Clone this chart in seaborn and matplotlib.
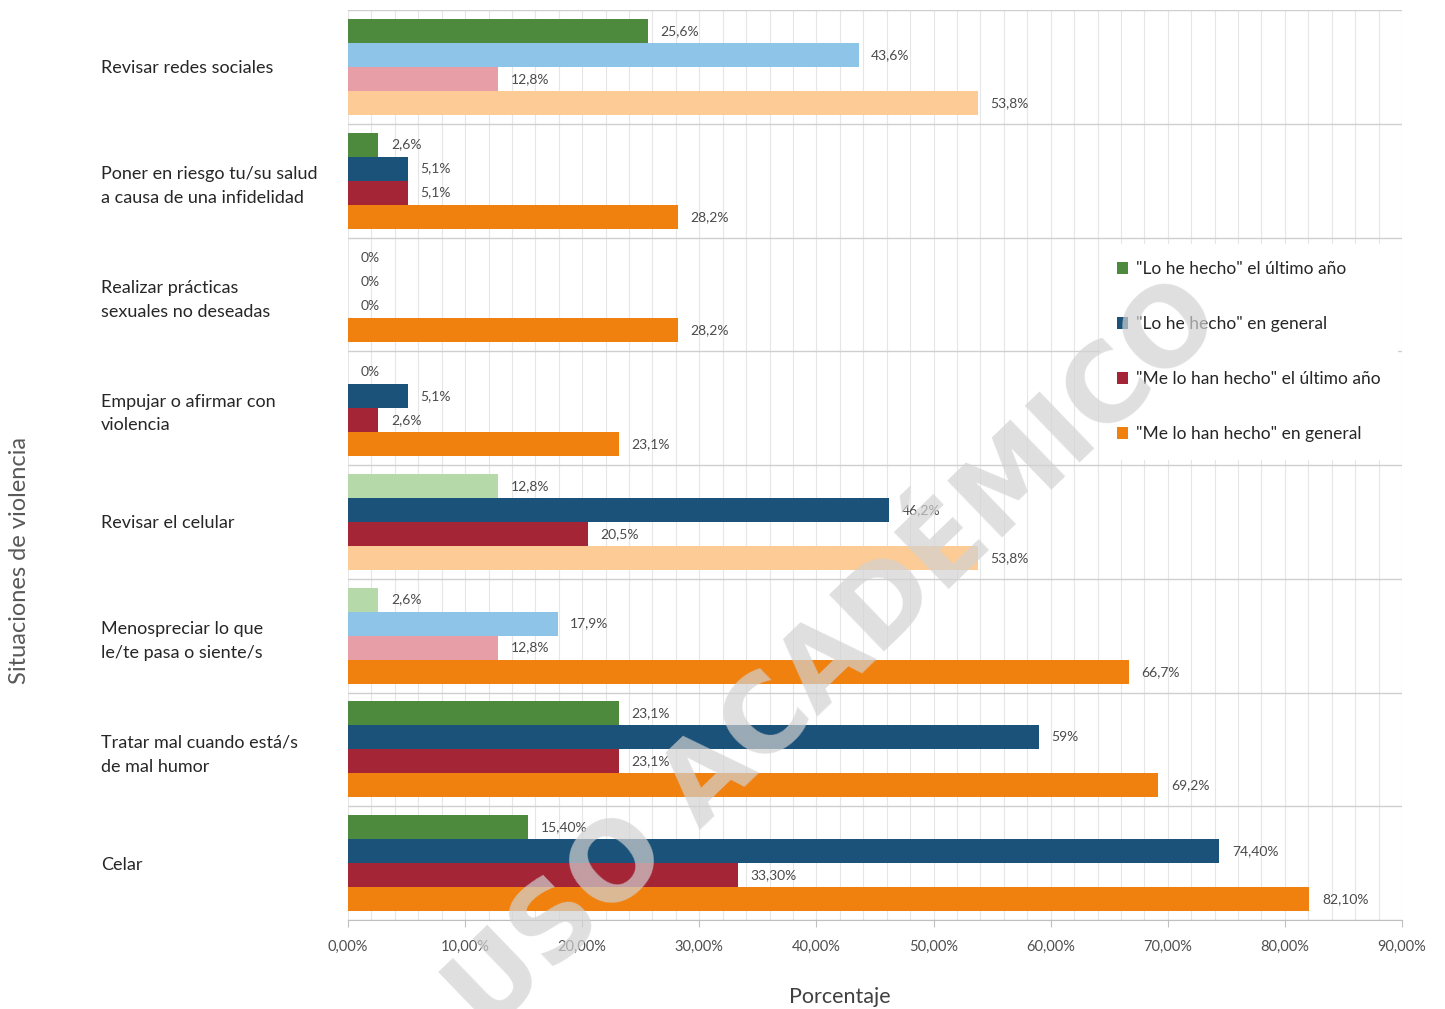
import numpy as np
import pandas as pd
import matplotlib
matplotlib.use("Agg")
import matplotlib.pyplot as plt
import seaborn as sns
from matplotlib.patches import Patch
from matplotlib.ticker import MultipleLocator

# ---------------- data ----------------
categories = [
    "Revisar redes sociales",
    "Poner en riesgo tu/su salud\na causa de una infidelidad",
    "Realizar prácticas\nsexuales no deseadas",
    "Empujar o afirmar con\nviolencia",
    "Revisar el celular",
    "Menospreciar lo que\nle/te pasa o siente/s",
    "Tratar mal cuando está/s\nde mal humor",
    "Celar",
]
series_names = [
    '"Lo he hecho" el último año',
    '"Lo he hecho" en general',
    '"Me lo han hecho" el último año',
    '"Me lo han hecho" en general',
]
hecho_ultimo = [25.6, 2.6, 0, 0, 12.8, 2.6, 23.1, 15.4]
hecho_general = [43.6, 5.1, 0, 5.1, 46.2, 17.9, 59.0, 74.4]
me_ultimo = [12.8, 5.1, 0, 2.6, 20.5, 12.8, 23.1, 33.3]
me_general = [53.8, 28.2, 28.2, 23.1, 53.8, 66.7, 69.2, 82.1]

labels_hecho_ultimo = ["25,6%", "2,6%", "0%", "0%", "12,8%", "2,6%", "23,1%", "15,40%"]
labels_hecho_general = ["43,6%", "5,1%", "0%", "5,1%", "46,2%", "17,9%", "59%", "74,40%"]
labels_me_ultimo = ["12,8%", "5,1%", "0%", "2,6%", "20,5%", "12,8%", "23,1%", "33,30%"]
labels_me_general = ["53,8%", "28,2%", "28,2%", "23,1%", "53,8%", "66,7%", "69,2%", "82,10%"]

x_ticks = [0, 10, 20, 30, 40, 50, 60, 70, 80, 90]
x_tick_labels = ["0,00%", "10,00%", "20,00%", "30,00%", "40,00%",
                 "50,00%", "60,00%", "70,00%", "80,00%", "90,00%"]

# ---------------- style ----------------
dark_colors = ["#4E8A3E", "#1B5279", "#A32536", "#F0810F"]
light_colors = ["#B5D9A8", "#8EC4E8", "#E79EA6", "#FCCB96"]
faded = [
    [False, False, False, False, True, True, False, False],
    [True, False, False, False, False, True, False, False],
    [True, False, False, False, False, True, False, False],
    [True, False, False, False, True, False, False, False],
]

sns.set_style("white")
plt.rcParams["font.family"] = ["Lato", "DejaVu Sans"]

values_all = [hecho_ultimo, hecho_general, me_ultimo, me_general]
labels_all = [labels_hecho_ultimo, labels_hecho_general, labels_me_ultimo, labels_me_general]

rows = []
for s, vals in zip(series_names, values_all):
    for c, v in zip(categories, vals):
        rows.append({"cat": c, "serie": s, "valor": v})
df = pd.DataFrame(rows)

fig = plt.figure(figsize=(14.45, 10.09), dpi=100)
ax = fig.add_axes([348 / 1445, 1 - 920 / 1009, (1402 - 348) / 1445, (920 - 10) / 1009])

sns.barplot(data=df, y="cat", x="valor", hue="serie", order=categories,
            hue_order=series_names, palette=dark_colors, orient="h",
            width=0.845, dodge=True, saturation=1, legend=False, ax=ax,
            errorbar=None, zorder=2)

for si, cont in enumerate(ax.containers):
    labs = []
    for p in cont.patches:
        ci = int(round(p.get_y() + p.get_height() / 2))
        p.set_facecolor(light_colors[si] if faded[si][ci] else dark_colors[si])
        p.set_edgecolor("none")
        labs.append(labels_all[si][ci])
    ax.bar_label(cont, labels=labs, padding=9, fontsize=10,
                 color="#4A4A4A")

ax.set_xlim(0, 90)
ax.set_ylim(7.5, -0.5)
ax.set_xticks(x_ticks)
ax.set_xticklabels(x_tick_labels, fontsize=10.5, color="#505050")
ax.xaxis.set_minor_locator(MultipleLocator(2))
ax.set_yticks(np.arange(-0.5, 8, 1), minor=True)
ax.grid(which="both", axis="x", color="#E6E6E6", lw=0.8, zorder=0)
ax.grid(which="minor", axis="y", color="#CFCFCF", lw=1.0, zorder=0)
ax.grid(which="major", axis="y", visible=False)
ax.set_axisbelow(True)

ax.tick_params(axis="x", which="major", length=5, color="#BFBFBF", pad=9, direction="out", bottom=True)
ax.tick_params(axis="x", which="minor", length=0)
ax.tick_params(axis="y", which="both", length=0, pad=178)
for lab in ax.get_yticklabels():
    lab.set_ha("left")
    lab.set_fontsize(13)
    lab.set_color("#262626")
    lab.set_linespacing(1.6)

for sp in ["top", "right", "left"]:
    ax.spines[sp].set_visible(False)
ax.spines["bottom"].set_color("#BFBFBF")

ax.set_ylabel("")
ax.set_xlabel("Porcentaje", fontsize=15.5, color="#404040", labelpad=24)
ax.xaxis.label.set_x((840 - 348) / 1054)
fig.text(20 / 1445, 1 - 560 / 1009, "Situaciones de violencia", rotation=90,
         ha="center", va="center", fontsize=17, color="#595959")

handles = [Patch(facecolor=c, edgecolor="none") for c in dark_colors]
leg = ax.legend(handles, series_names, loc="upper left",
                bbox_to_anchor=(1091 / 1445, 1 - 235 / 1009),
                bbox_transform=fig.transFigure, frameon=True, facecolor="white",
                edgecolor="none", framealpha=1, fontsize=12.5, labelspacing=2.25,
                handlelength=0.65, handleheight=0.65, handletextpad=0.45,
                borderpad=1.0)
for t in leg.get_texts():
    t.set_color("#262626")

# watermark
fig.text(1205 / 1445, 1 - 300 / 1009, "USO ACADÉMICO", rotation=44,
         rotation_mode="anchor", ha="right", va="center", fontsize=78,
         fontweight="bold", color="#D2D2D2", alpha=0.7, zorder=10,
         family=["DejaVu Sans"])

fig.savefig("out.png", dpi=100)
